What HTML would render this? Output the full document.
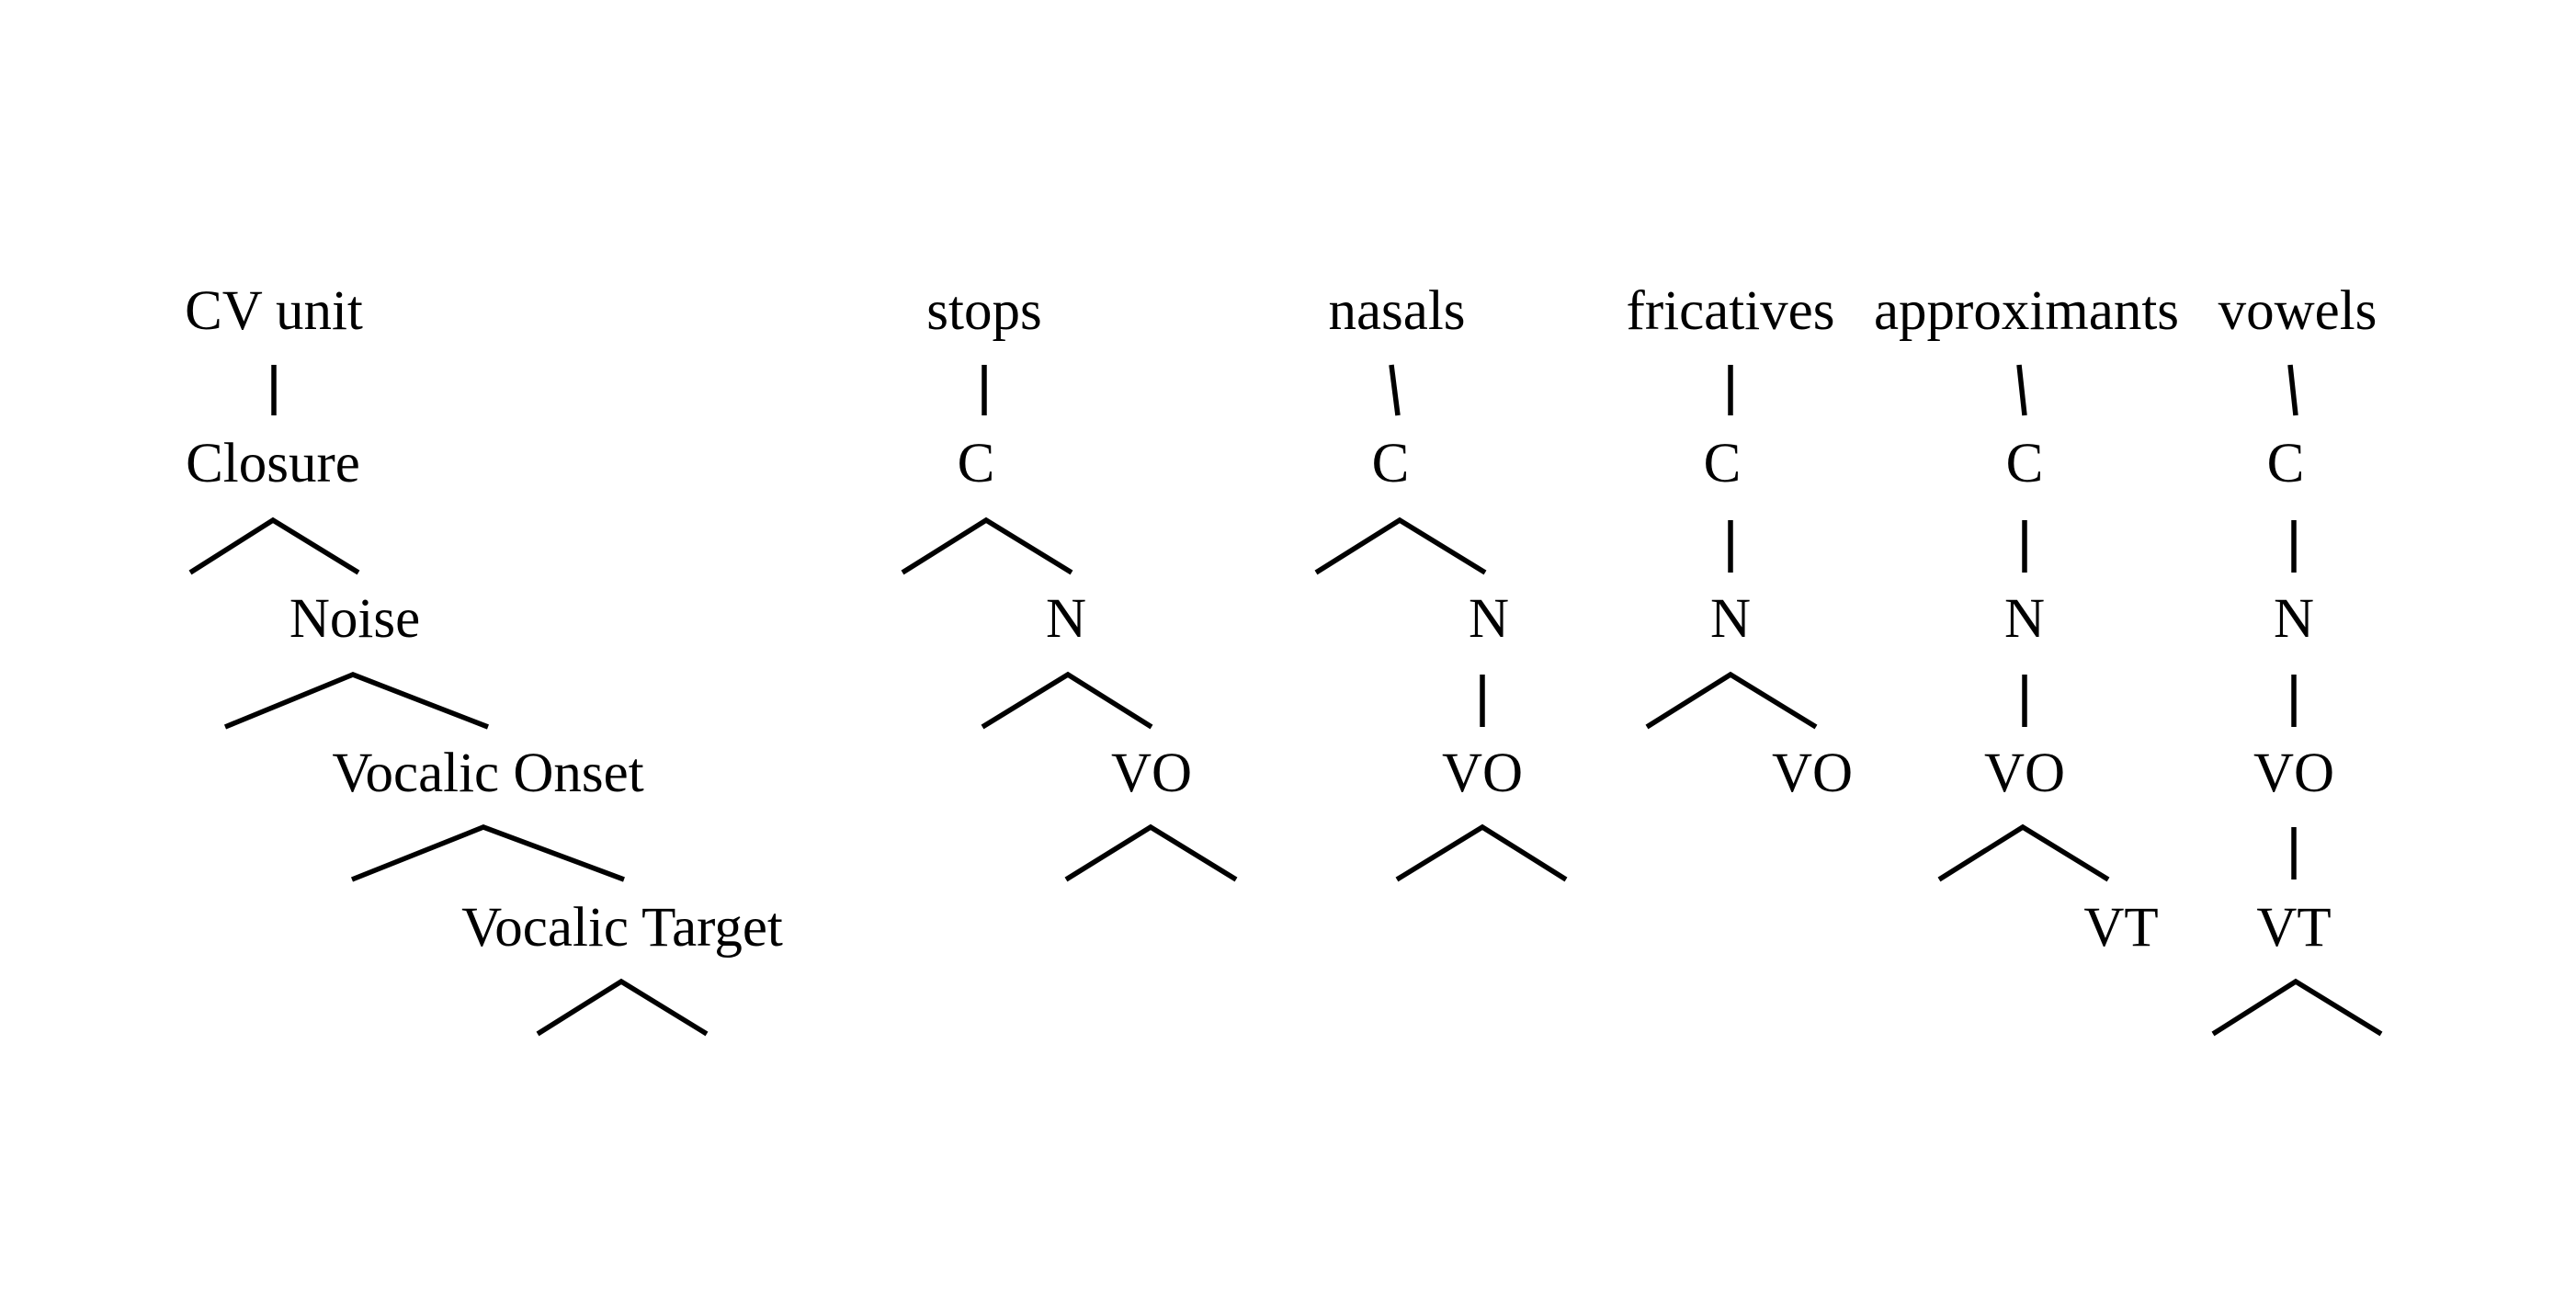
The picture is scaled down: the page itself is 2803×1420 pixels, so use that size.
<!DOCTYPE html>
<html><head><meta charset="utf-8"><style>
html,body{margin:0;padding:0;background:#fff;}
svg{display:block;}
text{font-family:"Liberation Serif",serif;font-size:61px;fill:#000;text-anchor:middle;}
</style></head><body>
<svg width="2803" height="1420" viewBox="0 0 2803 1420" xmlns="http://www.w3.org/2000/svg">
<rect width="2803" height="1420" fill="#fff"/>
<g stroke="#000" stroke-width="5.5" fill="none">
<line x1="298" y1="397" x2="298" y2="452"/>
<polyline points="207,623 297,566 390,623"/>
<polyline points="245,791 384,734 531,791"/>
<polyline points="383,957 526,900 679,957"/>
<polyline points="585,1125 676,1068 769,1125"/>
<line x1="1071" y1="397" x2="1071" y2="452"/>
<polyline points="982,623 1073,566 1166,623"/>
<polyline points="1069,791 1162,734 1253,791"/>
<polyline points="1160,957 1252,900 1345,957"/>
<line x1="1514" y1="397" x2="1521" y2="452"/>
<polyline points="1432,623 1523,566 1616,623"/>
<line x1="1613" y1="734" x2="1613" y2="791"/>
<polyline points="1520,957 1613,900 1704,957"/>
<line x1="1883" y1="397" x2="1883" y2="452"/>
<line x1="1883" y1="566" x2="1883" y2="623"/>
<polyline points="1792,791 1883,734 1976,791"/>
<line x1="2197" y1="397" x2="2203" y2="452"/>
<line x1="2203" y1="566" x2="2203" y2="623"/>
<line x1="2203" y1="734" x2="2203" y2="791"/>
<polyline points="2110,957 2201,900 2294,957"/>
<line x1="2492" y1="397" x2="2498" y2="452"/>
<line x1="2496" y1="566" x2="2496" y2="623"/>
<line x1="2496" y1="734" x2="2496" y2="791"/>
<line x1="2496" y1="900" x2="2496" y2="957"/>
<polyline points="2408,1125 2498,1068 2591,1125"/>
</g>
<g>
<text x="298" y="358">CV unit</text>
<text x="297" y="524">Closure</text>
<text x="386" y="693">Noise</text>
<text x="531" y="861">Vocalic Onset</text>
<text x="677" y="1029">Vocalic Target</text>

<text x="1071" y="358">stops</text>
<text x="1062" y="524">C</text>
<text x="1160" y="693">N</text>
<text x="1253" y="861">VO</text>

<text x="1520" y="358">nasals</text>
<text x="1513" y="524">C</text>
<text x="1620" y="693">N</text>
<text x="1613" y="861">VO</text>

<text x="1883" y="358">fricatives</text>
<text x="1874" y="524">C</text>
<text x="1883" y="693">N</text>
<text x="1972" y="861">VO</text>

<text x="2205" y="358">approximants</text>
<text x="2203" y="524">C</text>
<text x="2203" y="693">N</text>
<text x="2203" y="861">VO</text>
<text x="2308" y="1029">VT</text>

<text x="2500" y="358">vowels</text>
<text x="2487" y="524">C</text>
<text x="2496" y="693">N</text>
<text x="2496" y="861">VO</text>
<text x="2496" y="1029">VT</text>
</g>
</svg>
</body></html>
